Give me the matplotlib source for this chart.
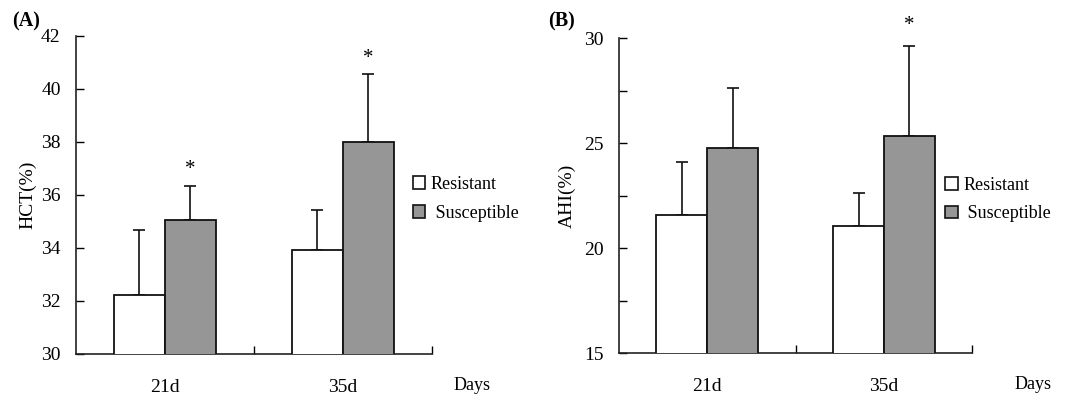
import matplotlib
matplotlib.use("Agg")
import matplotlib.pyplot as plt
from matplotlib.patches import Patch

plt.rcParams['font.family'] = ['Liberation Serif', 'DejaVu Serif']

categories = ["21d", "35d"]
series_names = ["Resistant", "Susceptible"]

hct_resistant = [32.24, 33.92]
hct_resistant_err = [2.44, 1.51]
hct_susceptible = [35.05, 38.0]
hct_susceptible_err = [1.29, 2.54]
hct_sig = [False, False, True, True]  # order: R21, R35, S21, S35

ahi_resistant = [21.58, 21.06]
ahi_resistant_err = [2.54, 1.58]
ahi_susceptible = [24.77, 25.35]
ahi_susceptible_err = [2.84, 4.28]
ahi_sig = [False, False, False, True]

FS = 14
GRAY = "#969696"
LW = 1.3


def panel(ax, res, res_err, sus, sus_err, sig, ylim, yticks, ylabels, ylabel, tag, star_off,
          days_x, tag_xy, leg_xy, ylabelpad):
    x = list(range(len(categories)))
    w = 0.287
    xr = [i - w / 2 for i in x]
    xs = [i + w / 2 for i in x]
    ax.bar(xr, res, width=w, color="white", edgecolor="#111111", linewidth=LW, zorder=3)
    ax.bar(xs, sus, width=w, color=GRAY, edgecolor="#111111", linewidth=LW, zorder=3)
    ax.errorbar(xr, res, yerr=[[0] * len(res), res_err], fmt="none", ecolor="#111111",
                elinewidth=1.2, capsize=4, capthick=1.2, zorder=2)
    ax.errorbar(xs, sus, yerr=[[0] * len(sus), sus_err], fmt="none", ecolor="#111111",
                elinewidth=1.2, capsize=4, capthick=1.2, zorder=2)
    allx = xr + xs
    ally = [r + e for r, e in zip(res, res_err)] + [s + e for s, e in zip(sus, sus_err)]
    for xx, yy, s in zip(allx, ally, sig):
        if s:
            ax.text(xx, yy + star_off, "*", ha="center", va="center", fontsize=15, clip_on=False)
    ax.set_xlim(-0.5, 1.5)
    ax.set_ylim(*ylim)
    ax.set_yticks(yticks)
    ax.set_yticklabels(ylabels, fontsize=FS)
    ax.tick_params(axis="y", direction="in", length=6, width=1, pad=11)
    ax.set_xticks(x)
    ax.set_xticklabels(categories, fontsize=FS)
    ax.tick_params(axis="x", which="major", length=0, pad=18)
    ax.set_xticks([0.5, 1.5], minor=True)
    ax.tick_params(axis="x", which="minor", direction="in", length=6, width=1)
    for sp in ["top", "right"]:
        ax.spines[sp].set_visible(False)
    for sp in ["left", "bottom"]:
        ax.spines[sp].set_linewidth(1.2)
        ax.spines[sp].set_color("#222222")
    ax.set_ylabel(ylabel, fontsize=FS, labelpad=ylabelpad)
    ax.text(days_x, -0.1, "Days", transform=ax.transAxes, ha="center", va="center", fontsize=13)
    ax.text(tag_xy[0], tag_xy[1], tag, transform=ax.transAxes, ha="center", va="center",
            fontsize=14.5, fontweight="bold")
    handles = [Patch(facecolor="white", edgecolor="#111111", linewidth=1.2),
               Patch(facecolor=GRAY, edgecolor="#111111", linewidth=1.2)]
    ax.legend(handles, [series_names[0], " " + series_names[1]], loc="center left",
              bbox_to_anchor=leg_xy, frameon=False, fontsize=13,
              handlelength=0.7, handleheight=0.7, handletextpad=0.3, labelspacing=0.65)


fig = plt.figure(figsize=(10.77, 3.95), dpi=100)
axA = fig.add_axes([0.0705, 0.1038, 0.3305, 0.806])
axB = fig.add_axes([0.5745, 0.1056, 0.3283, 0.798])

panel(axA, hct_resistant, hct_resistant_err, hct_susceptible, hct_susceptible_err, hct_sig,
      (30, 42), [30, 32, 34, 36, 38, 40, 42], ["30", "32", "34", "36", "38", "40", "42"],
      "HCT(%)", "(A)", 0.6, 1.112, (-0.14, 1.045), (0.9, 0.488), 3)
panel(axB, ahi_resistant, ahi_resistant_err, ahi_susceptible, ahi_susceptible_err, ahi_sig,
      (15, 30), [15, 17.5, 20, 22.5, 25, 27.5, 30], ["15", "", "20", "", "25", "", "30"],
      "AHI(%)", "(B)", 0.95, 1.172, (-0.163, 1.052), (0.877, 0.488), 6)

fig.savefig("out.png", dpi=100)
